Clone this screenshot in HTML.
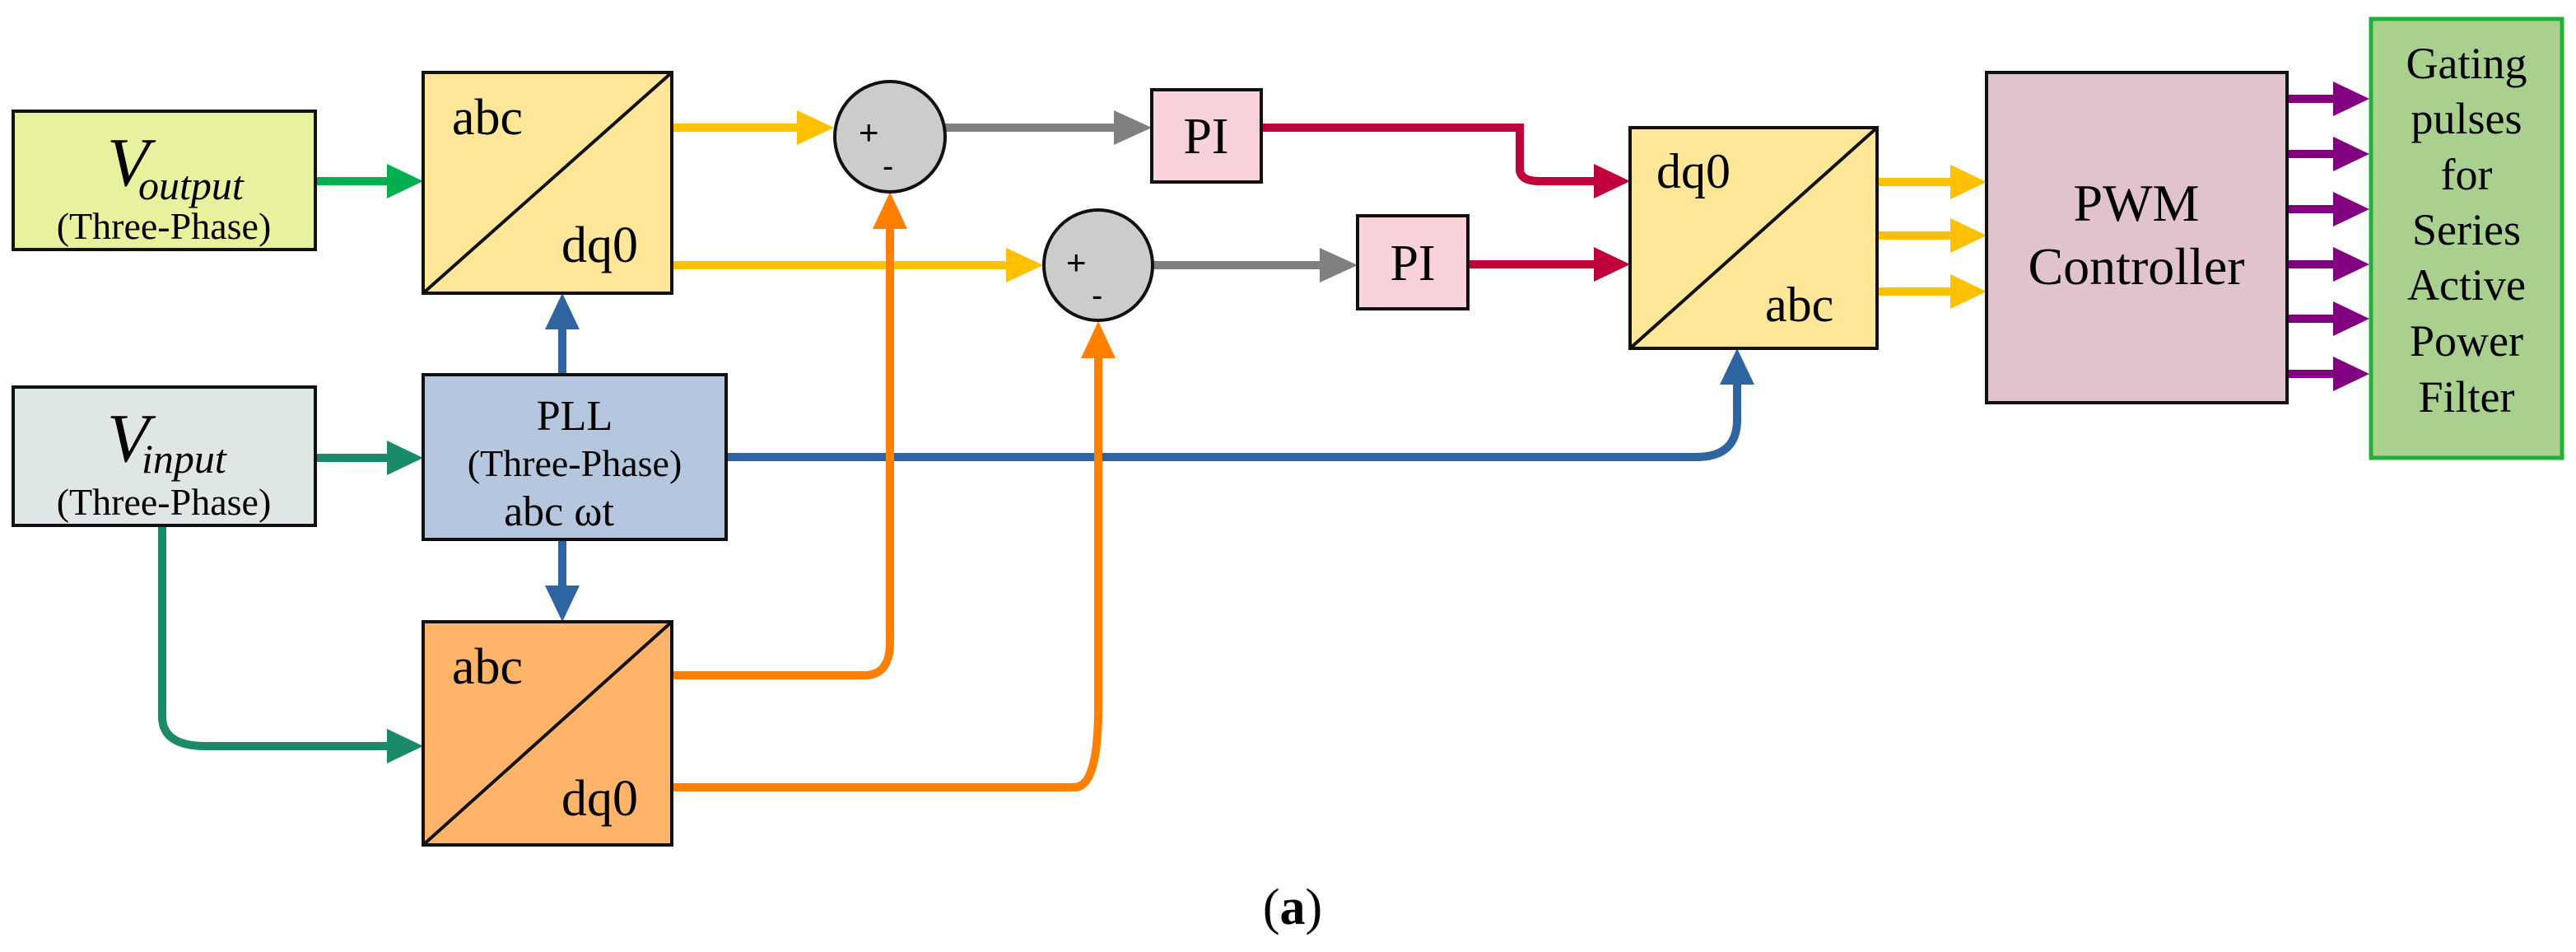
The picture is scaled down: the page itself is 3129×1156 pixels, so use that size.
<!DOCTYPE html>
<html><head><meta charset="utf-8"><style>
html,body{margin:0;padding:0;background:#fff}
svg{display:block}
</style></head><body>
<svg width="3129" height="1156" viewBox="0 0 3129 1156" xmlns="http://www.w3.org/2000/svg">
<g fill="none" stroke-width="10" stroke-linecap="butt">
<line x1="383" y1="220" x2="480" y2="220" stroke="#00B050"/>
<line x1="383" y1="556" x2="480" y2="556" stroke="#1A8A6A"/>
<path d="M197 638 V870 Q197 906 250 906 H480" stroke="#1A8A6A"/>
<line x1="683" y1="455" x2="683" y2="400" stroke="#2E64A0"/>
<line x1="683" y1="655" x2="683" y2="712" stroke="#2E64A0"/>
<path d="M882 555 H2060 Q2110 555 2110 510 V465" stroke="#2E64A0"/>
<line x1="816" y1="155" x2="970" y2="155" stroke="#FFC000"/>
<line x1="816" y1="322" x2="1222" y2="322" stroke="#FFC000"/>
<path d="M816 820 H1050 Q1081 820 1081 780 V276" stroke="#FF8000"/>
<path d="M816 956 H1305 Q1334 956 1334 860 V432" stroke="#FF8000"/>
<line x1="1148" y1="155" x2="1355" y2="155" stroke="#808080"/>
<line x1="1400" y1="322" x2="1605" y2="322" stroke="#808080"/>
<path d="M1532 155 H1846 V205 Q1846 220 1870 220 H1936" stroke="#C0003C"/>
<line x1="1783" y1="321" x2="1936" y2="321" stroke="#C0003C"/>
<line x1="2280" y1="221" x2="2370" y2="221" stroke="#FFC000"/>
<line x1="2280" y1="286" x2="2370" y2="286" stroke="#FFC000"/>
<line x1="2280" y1="354" x2="2370" y2="354" stroke="#FFC000"/>
<g stroke="#800080">
<line x1="2778" y1="120" x2="2835" y2="120"/>
<line x1="2778" y1="187" x2="2835" y2="187"/>
<line x1="2778" y1="254" x2="2835" y2="254"/>
<line x1="2778" y1="321" x2="2835" y2="321"/>
<line x1="2778" y1="387" x2="2835" y2="387"/>
<line x1="2778" y1="454" x2="2835" y2="454"/>
</g>
</g>
<polygon points="514,220 470,199 470,241" fill="#00B050"/>
<polygon points="514,556 470,535 470,577" fill="#1A8A6A"/>
<polygon points="514,906 470,885 470,927" fill="#1A8A6A"/>
<polygon points="683,356 662,400 704,400" fill="#2E64A0"/>
<polygon points="683,755 662,711 704,711" fill="#2E64A0"/>
<polygon points="2110,423 2089,467 2131,467" fill="#2E64A0"/>
<polygon points="1013,155 968,134 968,176" fill="#FFC000"/>
<polygon points="1267,322 1222,301 1222,343" fill="#FFC000"/>
<polygon points="1081,233 1060,278 1102,278" fill="#FF8000"/>
<polygon points="1334,390 1313,435 1355,435" fill="#FF8000"/>
<polygon points="1399,155 1353,134 1353,176" fill="#808080"/>
<polygon points="1649,322 1603,301 1603,343" fill="#808080"/>
<polygon points="1980,220 1936,199 1936,241" fill="#C0003C"/>
<polygon points="1980,321 1936,300 1936,342" fill="#C0003C"/>
<g fill="#FFC000">
<polygon points="2413,221 2369,200 2369,242"/>
<polygon points="2413,286 2369,265 2369,307"/>
<polygon points="2413,354 2369,333 2369,375"/>
</g>
<g fill="#800080">
<polygon points="2878,120 2834,99 2834,141"/>
<polygon points="2878,187 2834,166 2834,208"/>
<polygon points="2878,254 2834,233 2834,275"/>
<polygon points="2878,321 2834,300 2834,342"/>
<polygon points="2878,387 2834,366 2834,408"/>
<polygon points="2878,454 2834,433 2834,475"/>
</g>
<g stroke="#111" stroke-width="4">
<rect x="16" y="135" width="367" height="168" fill="#E8F29E"/>
<rect x="16" y="470" width="367" height="168" fill="#DEE6E6"/>
<rect x="514" y="88" width="302" height="268" fill="#FFE699"/>
<line x1="514" y1="356" x2="816" y2="88"/>
<rect x="514" y="455" width="368" height="200" fill="#B4C7DE"/>
<rect x="514" y="755" width="302" height="271" fill="#FFB46A"/>
<line x1="514" y1="1026" x2="816" y2="755"/>
<ellipse cx="1081" cy="166" rx="67" ry="67" fill="#CCCCCC"/>
<ellipse cx="1334" cy="322" rx="66" ry="67" fill="#CCCCCC"/>
<rect x="1399" y="109" width="133" height="112" fill="#F8D2D8"/>
<rect x="1649" y="262" width="134" height="113" fill="#F8D2D8"/>
<rect x="1980" y="155" width="300" height="268" fill="#FFE699"/>
<line x1="1980" y1="423" x2="2280" y2="155"/>
<rect x="2413" y="88" width="365" height="401" fill="#E1C3CC"/>
</g>
<rect x="2880" y="23" width="232" height="533" fill="#A9D08E" stroke="#22B03A" stroke-width="5"/>
<g style="font-family:'Liberation Serif',serif" fill="#000">
<text transform="translate(130,225) scale(2)" font-size="42" font-style="italic">V</text>
<text transform="translate(168,242) scale(2)" font-size="25" font-style="italic">output</text>
<text x="199" y="290" font-size="46" text-anchor="middle">(Three-Phase)</text>
<text transform="translate(130,560) scale(2)" font-size="42" font-style="italic">V</text>
<text transform="translate(172,574) scale(2)" font-size="25" font-style="italic">input</text>
<text x="199" y="625" font-size="46" text-anchor="middle">(Three-Phase)</text>
<text transform="translate(549,163) scale(2)" font-size="31">abc</text>
<text transform="translate(682,318) scale(2)" font-size="31">dq0</text>
<text x="698" y="522" font-size="52" text-anchor="middle">PLL</text>
<text x="698" y="578" font-size="46" text-anchor="middle">(Three-Phase)</text>
<text x="679" y="638" font-size="52" text-anchor="middle">abc ωt</text>
<text transform="translate(549,830) scale(2)" font-size="31">abc</text>
<text transform="translate(682,990) scale(2)" font-size="31">dq0</text>
<text transform="translate(1465,186) scale(2)" font-size="31" text-anchor="middle">PI</text>
<text transform="translate(1716,340) scale(2)" font-size="31" text-anchor="middle">PI</text>
<text transform="translate(2012,228) scale(2)" font-size="30">dq0</text>
<text transform="translate(2144,390) scale(2)" font-size="30">abc</text>
<text transform="translate(2595,268) scale(2)" font-size="32" text-anchor="middle">PWM</text>
<text transform="translate(2595,345) scale(2)" font-size="32" text-anchor="middle">Controller</text>
<g font-size="27" text-anchor="middle">
<text transform="translate(2996,95) scale(2)">Gating</text>
<text transform="translate(2996,162) scale(2)">pulses</text>
<text transform="translate(2996,230) scale(2)">for</text>
<text transform="translate(2996,297) scale(2)">Series</text>
<text transform="translate(2996,364) scale(2)">Active</text>
<text transform="translate(2996,432) scale(2)">Power</text>
<text transform="translate(2996,500) scale(2)">Filter</text>
</g>
<text transform="translate(1570,1122) scale(2)" font-size="31" text-anchor="middle">(<tspan font-weight="bold">a</tspan>)</text>
</g>
<g style="font-family:'Liberation Sans',sans-serif" fill="#000">
<text x="1043" y="175" font-size="42">+</text>
<text x="1072" y="215" font-size="40">-</text>
<text x="1295" y="333" font-size="42">+</text>
<text x="1326" y="372" font-size="40">-</text>
</g>
</svg>
</body></html>
